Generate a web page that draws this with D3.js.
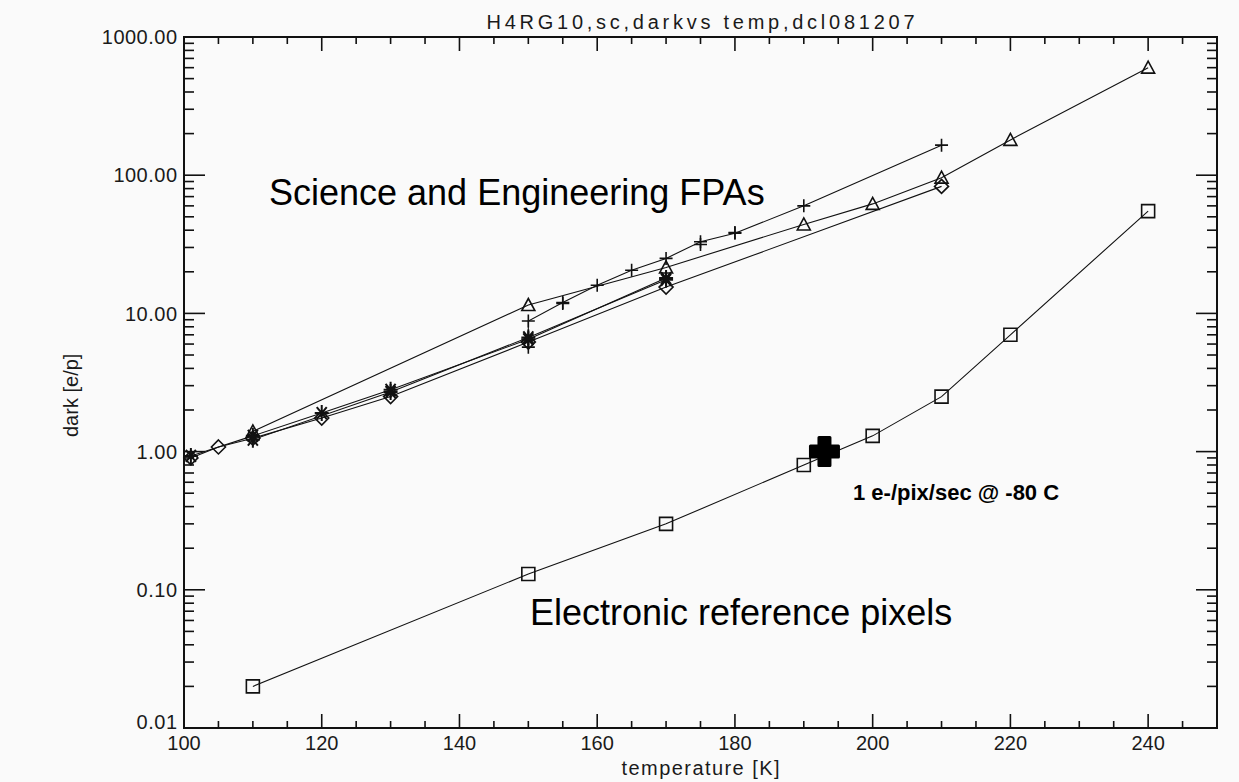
<!DOCTYPE html>
<html>
<head>
<meta charset="utf-8">
<script src="https://cdn.jsdelivr.net/npm/d3@7"></script>
<style>
  html, body { margin: 0; padding: 0; background: #fafafa; }
  svg { display: block; }
  .idl { font-family: "Liberation Sans", Arial, sans-serif; font-size: 20px; fill: #1a1a1a; }
  .note { font-family: "Liberation Sans", Arial, sans-serif; fill: #000; }
</style>
</head>
<body>
<div id="chart"></div>
<script>
// dark current vs temperature
const titleText = "H4RG10,sc,darkvs temp,dcl081207";
const xLabel = "temperature [K]";
const yLabel = "dark [e/p]";

const xTicksMajor = [100, 120, 140, 160, 180, 200, 220, 240];
const yTicksMajor = [0.01, 0.1, 1, 10, 100, 1000];
const yTickLabels = ["0.01", "0.10", "1.00", "10.00", "100.00", "1000.00"];

// science / engineering FPAs
const diamondSeries = [[101, 0.9], [105, 1.08], [110, 1.25], [120, 1.75], [130, 2.5], [150, 6.2], [170, 15.5], [210, 83]];
const asteriskSeries = [[101, 0.93], [110, 1.3], [120, 1.9], [130, 2.8], [150, 6.5], [170, 18]];
const asteriskSeries2 = [[110, 1.22], [130, 2.7], [150, 6.7], [170, 17.5]];
const triangleSeries = [[110, 1.4], [150, 11.5], [170, 21.5], [190, 44], [200, 62], [210, 96], [220, 180], [240, 600]];
const plusSeries = [[150, 5.7], [150, 8.8], [155, 12], [160, 16], [165, 20.5], [170, 25], [175, 33], [180, 38], [190, 60], [210, 165]];
const plusSeries2 = [[155, 11.8], [175, 31.5], [180, 38.5]];
// electronic reference pixels
const squareSeries = [[110, 0.02], [150, 0.13], [170, 0.30], [190, 0.80], [200, 1.3], [210, 2.5], [220, 7.0], [240, 55]];
// -80 C marker
const markerPoint = [193, 1.0];

const width = 1239, height = 782;
const margin = { top: 37, right: 22, bottom: 54, left: 184 };

const svg = d3.select("#chart").append("svg")
  .attr("width", width)
  .attr("height", height)
  .attr("viewBox", [0, 0, width, height]);

svg.append("rect").attr("width", width).attr("height", height).attr("fill", "#fafafa");

const x = d3.scaleLinear([100, 250], [margin.left, width - margin.right]);
const y = d3.scaleLog([0.01, 1000], [height - margin.bottom, margin.top]);

const x0 = x.range()[0], x1 = x.range()[1];
const y0 = y.range()[0], y1 = y.range()[1];

// minor ticks: every 5 K on x, 2..9 per decade on y
const xMinor = d3.range(105, 250, 5).filter(v => v % 20 !== 0);
const yMinor = [];
yTicksMajor.slice(0, -1).forEach(d => {
  for (let k = 2; k <= 9; k++) yMinor.push(d * k);
});

const axes = svg.append("g").attr("stroke", "#111").attr("stroke-width", 1.6);

// bottom + top ticks
axes.selectAll(".xt").data(xTicksMajor.concat(xMinor)).join("g")
  .each(function (d) {
    const len = xTicksMajor.includes(d) ? 14 : 7;
    const g = d3.select(this);
    g.append("line").attr("x1", x(d)).attr("x2", x(d)).attr("y1", y0).attr("y2", y0 - len);
    g.append("line").attr("x1", x(d)).attr("x2", x(d)).attr("y1", y1).attr("y2", y1 + len);
  });

// left + right ticks
axes.selectAll(".yt").data(yTicksMajor.concat(yMinor)).join("g")
  .each(function (d) {
    const len = yTicksMajor.includes(d) ? 21 : 10;
    const g = d3.select(this);
    g.append("line").attr("x1", x0).attr("x2", x0 + len).attr("y1", y(d)).attr("y2", y(d));
    g.append("line").attr("x1", x1).attr("x2", x1 - len).attr("y1", y(d)).attr("y2", y(d));
  });

axes.append("rect")
  .attr("x", x0).attr("y", y1)
  .attr("width", x1 - x0).attr("height", y0 - y1)
  .attr("fill", "none").attr("stroke-width", 2);

// tick labels
svg.append("g").selectAll("text").data(xTicksMajor).join("text")
  .attr("class", "idl")
  .attr("x", d => x(d))
  .attr("y", y0 + 22)
  .attr("text-anchor", "middle")
  .text(d => d);

svg.append("g").selectAll("text").data(yTicksMajor).join("text")
  .attr("class", "idl")
  .attr("x", x0 - 7)
  .attr("y", d => Math.min(y(d), y0 - 6))
  .attr("dy", "0.36em")
  .attr("text-anchor", "end")
  .attr("textLength", (d, i) => yTickLabels[i].length * 11.6 - 6)
  .text((d, i) => yTickLabels[i]);

// titles
svg.append("text").attr("class", "idl")
  .attr("x", (x0 + x1) / 2).attr("y", 29)
  .attr("text-anchor", "middle")
  .attr("textLength", 428)
  .text(titleText);

svg.append("text").attr("class", "idl")
  .attr("x", (x0 + x1) / 2).attr("y", 775)
  .attr("text-anchor", "middle")
  .attr("textLength", 158)
  .text(xLabel);

svg.append("text").attr("class", "idl")
  .attr("transform", `translate(78,437) rotate(-90)`)
  .attr("text-anchor", "start")
  .text(yLabel);

// data lines
const line = d3.line().x(d => x(d[0])).y(d => y(d[1]));
const allSeries = [
  { data: diamondSeries, sym: "diamond" },
  { data: asteriskSeries, sym: "asterisk" },
  { data: asteriskSeries2, sym: "asterisk" },
  { data: triangleSeries, sym: "triangle" },
  { data: plusSeries, sym: "plus" },
  { data: plusSeries2, sym: "plus", noLine: true },
  { data: squareSeries, sym: "square" }
];

const plot = svg.append("g");
plot.selectAll("path.series").data(allSeries.filter(s => !s.noLine)).join("path")
  .attr("class", "series")
  .attr("fill", "none")
  .attr("stroke", "#111")
  .attr("stroke-width", 1.1)
  .attr("d", s => line(s.data));

// IDL-like symbols
const symbolPath = {
  plus: "M-6.5,0H6.5M0,-6.5V6.5",
  asterisk: "M-7,0H7M0,-8V8M-5,-6L5,6M-5,6L5,-6",
  diamond: "M0,-7L7,0L0,7L-7,0Z",
  triangle: "M-6.5,5.5L6.5,5.5L0,-6.5Z",
  square: "M-6.5,-6.5H6.5V6.5H-6.5Z"
};

allSeries.forEach(s => {
  plot.append("g").selectAll("path").data(s.data).join("path")
    .attr("transform", d => `translate(${x(d[0])},${y(d[1])})`)
    .attr("d", symbolPath[s.sym])
    .attr("fill", "none")
    .attr("stroke", "#111")
    .attr("stroke-width", s.sym === "asterisk" ? 2 : 1.6);
});

// big bold plus at -80 C
plot.append("path")
  .attr("transform", `translate(${x(markerPoint[0])},${y(markerPoint[1])})`)
  .attr("d", "M-5.5,-14H5.5V-5.5H14V5.5H5.5V14H-5.5V5.5H-14V-5.5H-5.5Z")
  .attr("fill", "#000")
  .attr("stroke", "#000")
  .attr("stroke-width", 3)
  .attr("stroke-linejoin", "round");

// annotations
svg.append("text").attr("class", "note")
  .attr("x", 269).attr("y", 205)
  .attr("font-size", 36)
  .text("Science and Engineering FPAs");

svg.append("text").attr("class", "note")
  .attr("x", 530).attr("y", 625)
  .attr("font-size", 36)
  .text("Electronic reference pixels");

svg.append("text").attr("class", "note")
  .attr("x", 853).attr("y", 500)
  .attr("font-size", 22)
  .attr("font-weight", "bold")
  .text("1 e-/pix/sec @ -80 C");
</script>
</body>
</html>
